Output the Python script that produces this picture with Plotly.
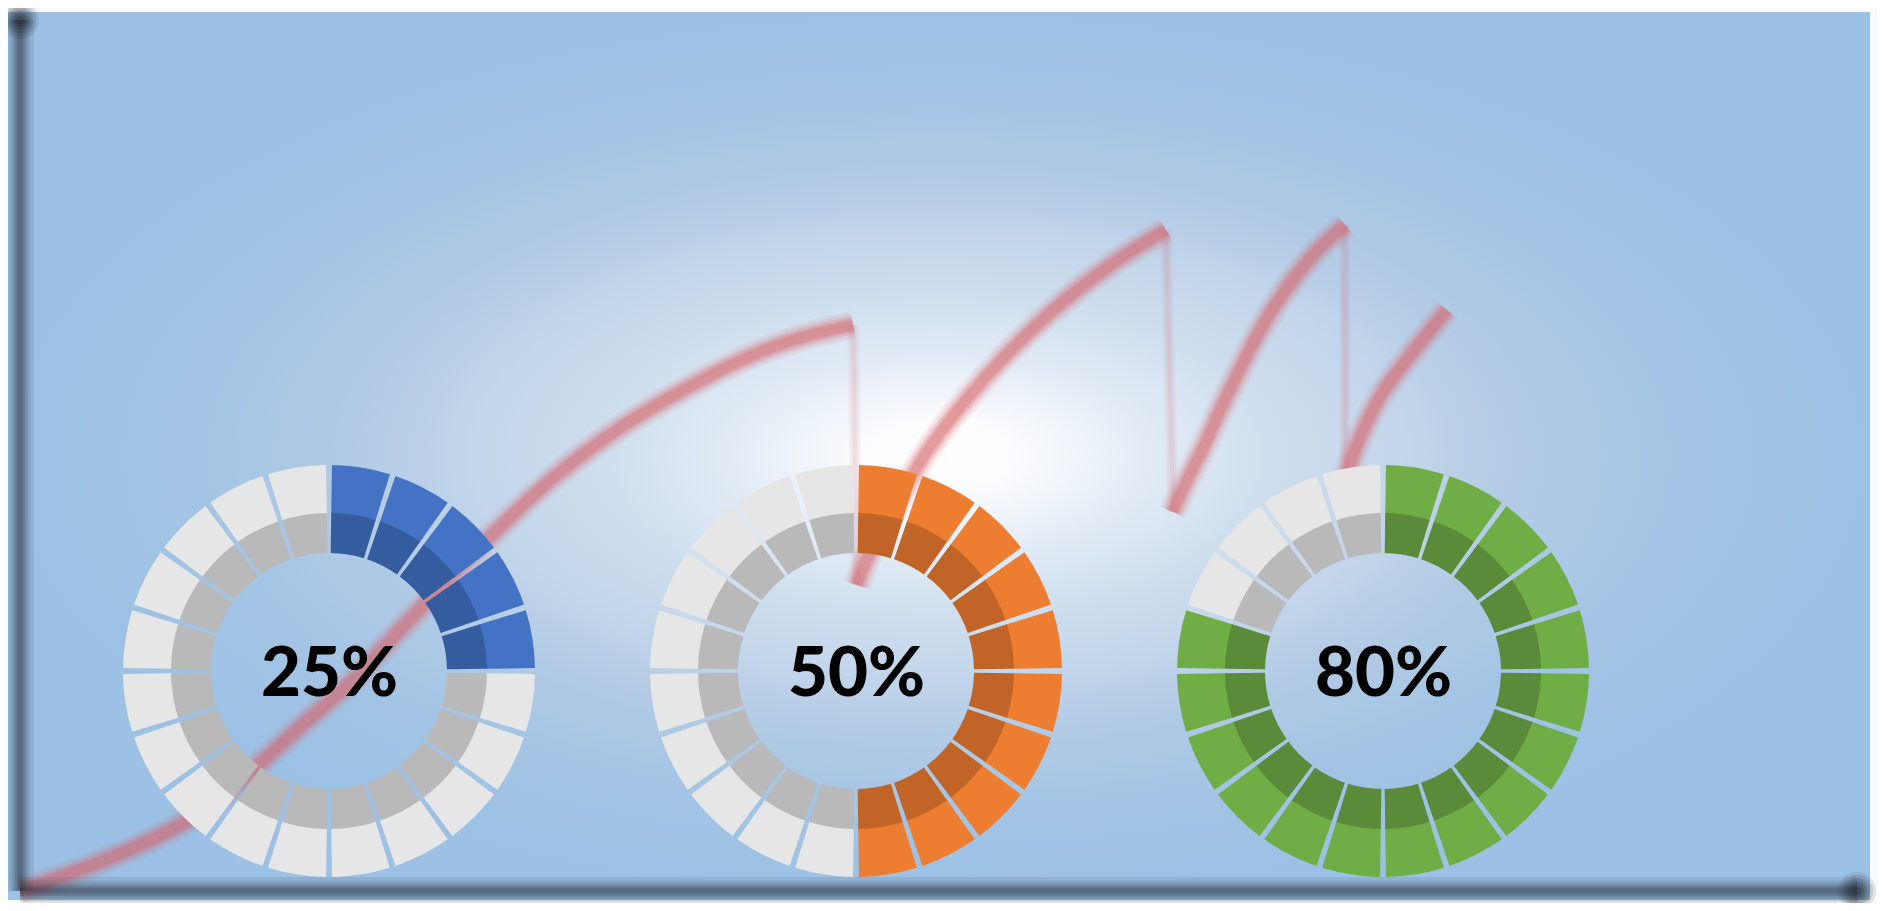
import plotly.graph_objects as go

# ---------------- data ----------------
# Background curve: four rising runs (time 0-100 on x, value 0-100 on y)
run1_t = [0, 4.35, 8.00, 10.34, 12.90, 15.24, 17.96, 20.69, 23.41, 26.13, 29.02, 32.66, 36.31, 39.90, 42.62, 45.35]
run1_v = [0, 3.33, 6.77, 9.76, 14.35, 18.83, 23.88, 29.97, 36.05, 41.79, 47.42, 53.16, 57.75, 61.54, 63.60, 64.98]
run2_t = [45.56, 46.16, 47.47, 49.43, 52.53, 56.07, 59.45, 62.38]
run2_v = [35.13, 38.35, 43.51, 50.63, 58.90, 66.36, 71.99, 75.89]
run3_t = [62.77, 63.58, 64.40, 65.54, 67.99, 70.39, 72.13]
run3_v = [43.51, 47.42, 50.86, 56.14, 66.13, 73.02, 76.46]
run4_t = [72.13, 72.62, 74.03, 75.78, 77.68]
run4_v = [46.61, 50.29, 56.72, 61.77, 66.70]

# Progress rings
percents = [25, 50, 80]
pct_labels = ["25%", "50%", "80%"]
n_segments = 20
outer_colors = ["#4472c4", "#ed7d31", "#70ad47"]
inner_colors = ["#345c9f", "#c06527", "#5b8a3a"]
rest_outer = "#e6e6e6"
rest_inner = "#b9b9b9"

# ---------------- layout helpers ----------------
OFF = 8                    # page offset of the figure (body margin)
W, H = 1869, 895           # figure size
PX0, PXS = 20, 18.37       # page pixel of x=0, pixels per x unit
PY0, PYS = 891, 8.71       # page pixel of y=0, pixels per y unit
xr = [(OFF - PX0) / PXS, (OFF + W - PX0) / PXS]
yr = [(PY0 - OFF - H) / PYS, (PY0 - OFF) / PYS]

def dx(px):
    return (px - PX0) / PXS

def dy(py):
    return (PY0 - py) / PYS

fig = go.Figure()

# background panel with radial light
bx0, bx1, by0, by1 = dx(8), dx(1870), dy(900), dy(12)
fig.add_trace(go.Scatter(
    x=[bx0, bx1, bx1, bx0, bx0], y=[by0, by0, by1, by1, by0],
    mode="lines", line=dict(width=0), fill="toself",
    fillgradient=dict(type="radial", colorscale=[
        [0.0, "#ffffff"], [0.08, "#fbfcfe"], [0.2, "#e6eef7"], [0.35, "#d0dfee"],
        [0.5, "#c2d5ea"], [0.62, "#b3cbe5"], [0.8, "#a3c4e4"], [1.0, "#9cc1e4"]]),
    hoverinfo="skip", showlegend=False))

# curve (soft, blurred look by stacking)
def runs(parts):
    xs, ys = [], []
    for t, v in parts:
        xs += t + [None]
        ys += v + [None]
    return xs, ys

cx_, cy_ = runs([(run1_t, run1_v), (run2_t, run2_v), (run3_t, run3_v), (run4_t, run4_v)])
drop_t = [run1_t[-1], run2_t[0], None, run2_t[-1], run3_t[0], None, run3_t[-1], run4_t[0]]
drop_v = [run1_v[-1], run2_v[0], None, run2_v[-1], run3_v[0], None, run3_v[-1], run4_v[0]]

for w, a in [(12, 0.06), (8, 0.07), (4, 0.08)]:
    fig.add_trace(go.Scatter(x=drop_t, y=drop_v, mode="lines",
                             line=dict(color=f"rgba(217,103,110,{a})", width=w),
                             hoverinfo="skip", showlegend=False))
for w, a in [(28, 0.08), (23, 0.12), (18, 0.18), (14, 0.22), (10, 0.3)]:
    fig.add_trace(go.Scatter(x=cx_, y=cy_, mode="lines",
                             line=dict(color=f"rgba(214,100,104,{a})", width=w, shape="spline", smoothing=1.0),
                             connectgaps=False, hoverinfo="skip", showlegend=False))

# axis lines
shapes = []
for w, a in [(28, 0.10), (21, 0.12), (15, 0.16), (10, 0.2), (5, 0.22)]:
    col = f"rgba(40,46,54,{a})"
    shapes.append(dict(type="line", xref="x", yref="y", x0=0, y0=0, x1=0, y1=100,
                       line=dict(color=col, width=w), layer="above"))
    shapes.append(dict(type="line", xref="x", yref="y", x0=0, y0=0, x1=100, y1=0,
                       line=dict(color=col, width=w), layer="above"))
# soft edge of the panel
for w, a in [(22, 0.3), (12, 0.35), (5, 0.4)]:
    shapes.append(dict(type="rect", xref="x", yref="y", x0=bx0, y0=by0, x1=bx1, y1=by1,
                       line=dict(color=f"rgba(255,255,255,{a})", width=w), layer="below"))

# axis arrow blobs
for s, a in [(38, 0.12), (32, 0.15), (26, 0.2), (20, 0.25), (14, 0.3), (8, 0.35)]:
    fig.add_trace(go.Scatter(x=[0, 100], y=[100, 0], mode="markers",
                             marker=dict(size=s, color=f"rgba(40,46,54,{a})", line=dict(width=0)),
                             hoverinfo="skip", showlegend=False))

# donuts
centers_px = [329, 856, 1383]   # page pixels
cy_px = 671
R_OUT, R_MID, R_IN = 206, 158, 118
GAP = 0.1
annotations = []
for k, p in enumerate(percents):
    n_on = round(p / 100 * n_segments)
    vals, co, ci, labs = [GAP / 2], ["rgba(0,0,0,0)"], ["rgba(0,0,0,0)"], ["g0"]
    for i in range(n_segments):
        on = i < n_on
        vals.append(1)
        co.append(outer_colors[k] if on else rest_outer)
        ci.append(inner_colors[k] if on else rest_inner)
        labs.append(f"s{i}")
        vals.append(GAP if i < n_segments - 1 else GAP / 2)
        co.append("rgba(0,0,0,0)")
        ci.append("rgba(0,0,0,0)")
        labs.append(f"g{i+1}")
    fx = centers_px[k] - OFF
    fy = H - (cy_px - OFF)      # from bottom of figure
    for r_o, r_i, cols in [(R_OUT, R_MID - 1, co), (R_MID, R_IN, ci)]:
        fig.add_trace(go.Pie(
            values=vals, labels=labs, sort=False, direction="clockwise", rotation=0,
            hole=r_i / r_o, textinfo="none", hoverinfo="skip", showlegend=False,
            marker=dict(colors=cols, line=dict(width=0)),
            domain=dict(x=[(fx - r_o) / W, (fx + r_o) / W],
                        y=[(fy - r_o) / H, (fy + r_o) / H])))
    annotations.append(dict(x=fx / W, y=(fy + 2) / H, xref="paper", yref="paper",
                            text=pct_labels[k], showarrow=False, xanchor="center", yanchor="middle",
                            font=dict(family="Lato", size=69, color="black", weight=900)))

fig.update_layout(
    width=W, height=H, margin=dict(l=0, r=0, t=0, b=0),
    paper_bgcolor="#f3f5f8", plot_bgcolor="rgba(0,0,0,0)",
    xaxis=dict(range=xr, visible=False, fixedrange=True),
    yaxis=dict(range=yr, visible=False, fixedrange=True),
    shapes=shapes, annotations=annotations, showlegend=False,
)
fig.write_html("out.html")
